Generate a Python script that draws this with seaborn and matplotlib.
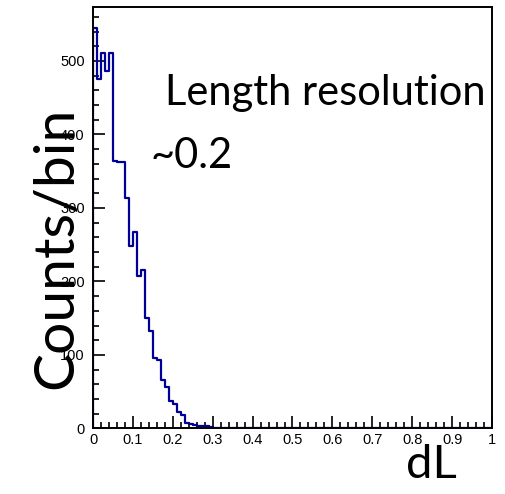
import numpy as np
import pandas as pd
import seaborn as sns
import matplotlib.pyplot as plt
from matplotlib.ticker import MultipleLocator

# dL histogram: 0.01 wide bins from 0 to 1, counts
bin_edges = [round(i * 0.01, 2) for i in range(101)]
counts_nonzero = [545, 476, 511, 486, 511, 364, 362, 362, 313, 248,
                  268, 207, 215, 150, 132, 96, 93, 66, 57, 38,
                  34, 22, 18, 7, 6, 5, 4, 3, 4, 2, 1]
counts = counts_nonzero + [0] * (len(bin_edges) - 1 - len(counts_nonzero))

x_ticks = [0, 0.1, 0.2, 0.3, 0.4, 0.5, 0.6, 0.7, 0.8, 0.9, 1.0]
x_tick_labels = ["0", "0.1", "0.2", "0.3", "0.4", "0.5", "0.6", "0.7", "0.8", "0.9", "1"]
y_ticks = [0, 100, 200, 300, 400, 500]
y_tick_labels = ["0", "100", "200", "300", "400", "500"]

line_color = "#000099"

sns.set_style("ticks")
plt.rcParams['font.family'] = ['Liberation Sans', 'DejaVu Sans']
plt.rcParams['text.color'] = 'black'
plt.rcParams['axes.labelcolor'] = 'black'

df = pd.DataFrame({"dL": np.array(bin_edges[:-1]) + 0.005, "counts": counts})

fig = plt.figure(figsize=(5.06, 4.94), dpi=100)
ax = fig.add_axes([0.1838, 0.1326, 0.7885, 0.8526])

sns.histplot(data=df, x="dL", weights="counts", bins=bin_edges,
             element="step", fill=False, color=line_color, linewidth=1.6, ax=ax)
# ROOT draws the left edge of the first bin too
ax.plot([bin_edges[0], bin_edges[0]], [0, counts[0]], color=line_color, linewidth=1.6)

ax.set_xlim(0, 1)
ax.set_ylim(0, 573)

ax.set_xticks(x_ticks, x_tick_labels)
ax.set_yticks(y_ticks, y_tick_labels)
ax.xaxis.set_minor_locator(MultipleLocator(0.02))
ax.yaxis.set_minor_locator(MultipleLocator(20))
ax.tick_params(which="both", direction="in", top=False, right=False,
               width=1.2, colors="black", labelsize=10.5)
ax.tick_params(which="major", length=8.5)
ax.tick_params(which="minor", length=4.5)
ax.tick_params(axis="y", pad=6)
ax.tick_params(axis="x", pad=3)

for side in ["left", "right", "top", "bottom"]:
    ax.spines[side].set_visible(True)
    ax.spines[side].set_linewidth(1.4)
    ax.spines[side].set_color("black")

# big labels overlap the tick labels on purpose, as in the slide
ax.set_ylabel("Counts/bin", fontsize=41, family="Lato", va="center", color="black")
ax.yaxis.set_label_coords(-0.09, 0.43)
ax.set_xlabel("dL", fontsize=34, family="Lato", va="center", color="black")
ax.xaxis.set_label_coords(0.847, -0.087)

ax.text(0.180, 0.768, "Length resolution", transform=ax.transAxes,
        fontsize=30, family="Lato", va="baseline", ha="left", color="black")
ax.text(0.143, 0.618, "~0.2", transform=ax.transAxes,
        fontsize=30, family="Lato", va="baseline", ha="left", color="black")

fig.savefig("out.png", dpi=100)
